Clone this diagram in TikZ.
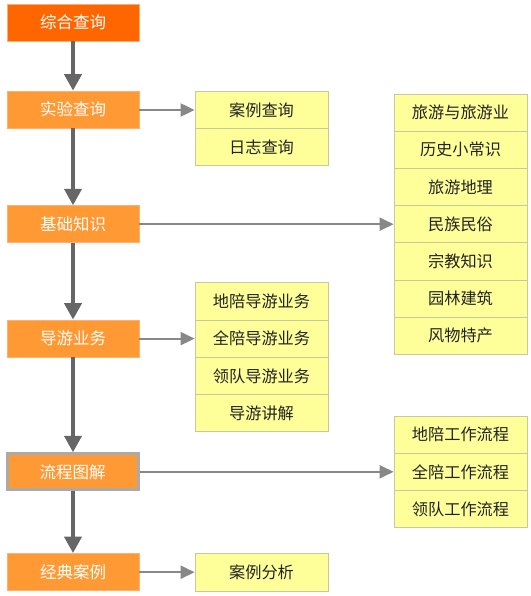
\documentclass[tikz,border=0pt]{standalone}
\usepackage{fontspec}
\setmainfont{Noto Sans CJK SC}
\usetikzlibrary{arrows.meta}
\definecolor{topor}{HTML}{FF6600}
\definecolor{mainor}{HTML}{FF9933}
\definecolor{oredge}{HTML}{FFB070}
\definecolor{yfill}{HTML}{FFFF99}
\definecolor{yedge}{HTML}{C8C8A0}
\definecolor{varrow}{HTML}{666666}
\definecolor{harrow}{HTML}{888888}
\definecolor{flowedge}{HTML}{AAAAAA}
\definecolor{ytext}{HTML}{222222}
\tikzset{
  obox/.style={rectangle, fill=mainor, draw=oredge, line width=0.8pt, minimum width=132pt, minimum height=37pt, inner sep=0pt, text=white, font=\fontsize{16.5pt}{19pt}\selectfont},
  ycell/.style={rectangle, fill=yfill, draw=yedge, line width=0.8pt, minimum width=133pt, minimum height=37.2pt, inner sep=0pt, text=ytext, font=\fontsize{16.2pt}{19pt}\selectfont},
  varr/.style={draw=varrow, line width=4pt, -{Triangle[length=16.5pt,width=17pt]}, fill=varrow},
  harr/.style={draw=harrow, line width=2pt, -{Triangle[length=14pt,width=13pt]}, fill=harrow},
}
\begin{document}
\begin{tikzpicture}[x=1pt,y=-1pt]
\useasboundingbox (0,0) rectangle (530,596);
\fill[white] (0,0) rectangle (530,596);
% left column
\node[obox, fill=topor] (zh) at (73,22.5) {综合查询};
\node[obox] (sy) at (73,109.5) {实验查询};
\node[obox] (jc) at (73,224.2) {基础知识};
\node[obox] (dy) at (73,338.5) {导游业务};
\node[obox, draw=flowedge, line width=3pt, minimum width=131pt, minimum height=36pt] (lc) at (72.5,471.8) {流程图解};
\node[obox] (jd) at (73,572) {经典案例};
% middle column
\node[ycell] (al) at (261.5,110) {案例查询};
\node[ycell] (rz) at (261.5,147.2) {日志查询};
\node[ycell] (dp) at (261.5,301.3) {地陪导游业务};
\node[ycell] (qp) at (261.5,338.6) {全陪导游业务};
\node[ycell] (ld) at (261.5,375.9) {领队导游业务};
\node[ycell] (js) at (261.5,413.1) {导游讲解};
\node[ycell, minimum height=37.7pt] (fx) at (261.5,572.2) {案例分析};
% right column
\node[ycell] (r1) at (460.5,112.6) {旅游与旅游业};
\node[ycell] (r2) at (460.5,149.8) {历史小常识};
\node[ycell] (r3) at (460.5,187) {旅游地理};
\node[ycell] (r4) at (460.5,224.2) {民族民俗};
\node[ycell] (r5) at (460.5,261.4) {宗教知识};
\node[ycell] (r6) at (460.5,298.6) {园林建筑};
\node[ycell] (r7) at (460.5,335.8) {风物特产};
\node[ycell] (f1) at (460.5,434.5) {地陪工作流程};
\node[ycell] (f2) at (460.5,471.8) {全陪工作流程};
\node[ycell] (f3) at (460.5,509.2) {领队工作流程};
% vertical arrows
\draw[varr] (zh.south) -- (sy.north);
\draw[varr] (sy.south) -- (jc.north);
\draw[varr] (jc.south) -- (dy.north);
\draw[varr] (dy.south) -- (dy.south |- lc.north);
\draw[varr] (jd.north |- lc.south) -- (jd.north);
% horizontal arrows
\draw[harr] (sy.east |- al.west) -- (al.west);
\draw[harr] (jc.east |- r4.west) -- (r4.west);
\draw[harr] (dy.east |- qp.west) -- (qp.west);
\draw[harr] (lc.east |- f2.west) -- (f2.west);
\draw[harr] (jd.east |- fx.west) -- (fx.west);
\end{tikzpicture}
\end{document}
